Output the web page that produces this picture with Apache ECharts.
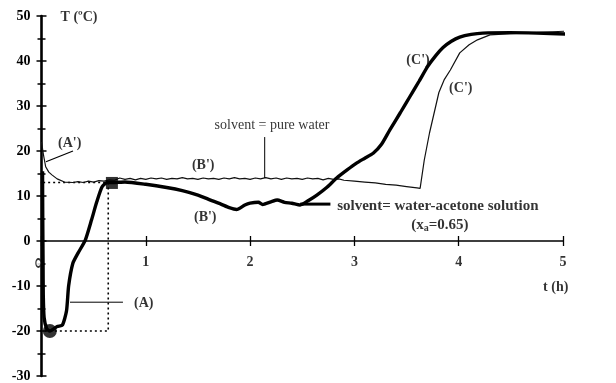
<!DOCTYPE html>
<html>
<head>
<meta charset="utf-8">
<script src="https://cdn.jsdelivr.net/npm/echarts@6/dist/echarts.min.js"></script>
<style>
  html, body { margin: 0; padding: 0; background: #fff; }
  #chart { width: 616px; height: 383px; }
</style>
</head>
<body>
<div id="chart"></div>
<script>
// Temperature history T (ºC) vs time t (h) for two solvents

// solvent = pure water (thin curve)
const waterTime = [0.00, 0.02, 0.04, 0.07, 0.10, 0.15, 0.22,
  0.30, 0.35, 0.40, 0.45, 0.50, 0.55, 0.60, 0.65, 0.70, 0.75, 0.80, 0.85, 0.90, 0.95,
  1.00, 1.05, 1.10, 1.15, 1.20, 1.25, 1.30, 1.35, 1.40, 1.45, 1.50, 1.55, 1.60, 1.65,
  1.70, 1.75, 1.80, 1.85, 1.90, 1.95, 2.00, 2.05, 2.10, 2.15, 2.20, 2.25, 2.30, 2.35,
  2.40, 2.45, 2.50, 2.55, 2.60, 2.65, 2.70, 2.75, 2.80, 2.85, 2.90,
  3.00, 3.10, 3.20, 3.30, 3.40, 3.50, 3.60, 3.63, 3.67, 3.72, 3.77, 3.81, 3.86, 3.92,
  4.01, 4.10, 4.18, 4.30, 4.50, 4.70, 4.90, 5.10, 5.45];
const waterTemp = [22.0, 19.0, 16.5, 15.3, 14.7, 13.8, 13.1,
  13.0, 13.2, 13.0, 13.3, 13.1, 13.4, 13.3, 13.6, 13.5, 14.0, 13.7, 13.9, 13.6, 13.9,
  13.7, 14.0, 13.8, 14.0, 13.7, 13.9, 13.8, 14.1, 13.8, 13.9, 13.7, 14.0, 13.8, 13.9,
  13.7, 14.0, 13.8, 14.1, 13.8, 13.9, 13.7, 14.0, 13.8, 14.1, 13.8, 14.0, 13.7, 14.0,
  13.8, 13.9, 13.7, 14.0, 13.8, 13.9, 13.6, 13.9, 13.7, 13.8, 13.5,
  13.3, 13.1, 12.9, 12.6, 12.4, 12.1, 11.8, 11.7, 18.0, 24.0, 29.0, 33.0, 35.8, 38.0,
  41.8, 43.6, 44.7, 45.8, 46.1, 46.3, 46.5, 46.7, 47.0];

// solvent = water-acetone solution, xa = 0.65 (thick curve)
const acetoneTime = [0.010, 0.012, 0.015, 0.017, 0.025, 0.05, 0.08, 0.15, 0.20, 0.24,
  0.26, 0.30, 0.35, 0.42, 0.48, 0.53, 0.58, 0.63, 0.68,
  0.80, 1.00, 1.20, 1.35, 1.50, 1.62, 1.72, 1.80, 1.87, 1.95, 2.00, 2.08, 2.12, 2.20,
  2.26, 2.33, 2.40, 2.48, 2.56, 2.64, 2.74, 2.83, 2.93, 3.02, 3.10, 3.18, 3.26, 3.34,
  3.44, 3.53, 3.62, 3.70, 3.78, 3.85, 3.93, 4.01, 4.12, 4.23, 4.49, 4.75, 5.02];
const acetoneTemp = [15.5, 5.0, -5.0, -12.0, -17.0, -19.5, -20.0, -19.0, -18.7, -15.5,
  -10.0, -5.0, -2.7, 0.2, 4.7, 8.7, 12.0, 13.0, 13.0,
  13.1, 12.6, 11.9, 11.2, 10.2, 9.1, 8.2, 7.4, 7.0, 8.0, 8.4, 8.6, 8.1, 8.7,
  9.1, 8.6, 8.4, 8.0, 9.0, 10.2, 12.0, 14.0, 15.8, 17.3, 18.4, 19.5, 21.5, 24.7,
  28.5, 32.0, 35.5, 38.7, 41.2, 43.0, 44.4, 45.3, 45.9, 46.2, 46.3, 46.2, 46.0];

// Marked points on the acetone curve: minimum (A) and end of cooling
const minPoint = [0.08, -20.0];
const plateauStart = [0.675, 12.9];
const startPoint = [-0.03, -4.9];

// Dotted guide box from the minimum to the end of cooling
const boxTime = [-0.08, 0.64, 0.64, -0.08, -0.08];
const boxTemp = [13.0, 13.0, -20.0, -20.0, 13.0];

// Tick label values
const yTicks = [-30, -20, -10, 0, 10, 20, 30, 40, 50];
const xTicks = [0, 1, 2, 3, 4, 5];

// Annotations: text and anchor in data units (t, T)
const noteText = ["T (ºC)", "(A')", "(A)", "(B')", "(B')", "solvent = pure water",
  "solvent= water-acetone solution", "{p|(x}{s|a}{p|=0.65)}", "(C')", "(C')", "t (h)"];
const noteTime = [0.36, 0.27, 0.98, 1.55, 1.57, 2.21, 3.80, 3.82, 3.61, 4.02, 4.93];
const noteTemp = [49.6, 21.8, -13.8, 16.9, 5.2, 25.8, 7.8, 3.6, 40.2, 34.0, -10.2];

// Leader lines from labels to curves
const leaders = [
  { t: [0.302, 0.043], T: [20.0, 17.6], w: 1.2 },
  { t: [0.273, 0.781], T: [-13.6, -13.6], w: 1.0 },
  { t: [2.14, 2.14], T: [23.1, 14.0], w: 1.0 },
  { t: [2.48, 2.77], T: [8.2, 8.2], w: 3.0 }
];

const zip = (a, b) => a.map((v, i) => [v, b[i]]);
const FONT = 'Liberation Serif';

const chart = echarts.init(document.getElementById('chart'), null, { renderer: 'canvas' });

const tickLabel = { fontFamily: FONT, fontWeight: 'bold', fontSize: 14, color: '#000' };

const series = [
  {
    type: 'line', name: 'pure water', data: zip(waterTime, waterTemp),
    showSymbol: false, clip: false, lineStyle: { color: '#111', width: 1.2 }, z: 3
  },
  {
    type: 'line', name: 'water-acetone', data: zip(acetoneTime, acetoneTemp),
    showSymbol: false, clip: false, smooth: 0.2, lineStyle: { color: '#000', width: 3.4 }, z: 4
  },
  {
    type: 'line', data: zip(boxTime, boxTemp), showSymbol: false, clip: false,
    lineStyle: { color: '#000', width: 1.6, type: [2, 3] }, z: 2
  },
  {
    type: 'scatter', data: [minPoint], symbol: 'circle', symbolSize: 14, clip: false,
    itemStyle: { color: '#000' }, z: 5
  },
  {
    type: 'scatter', data: [plateauStart], symbol: 'rect', symbolSize: 12, clip: false,
    itemStyle: { color: '#000' }, z: 5
  },
  {
    type: 'scatter', data: [startPoint], symbol: 'circle', symbolSize: [5, 8], clip: false,
    itemStyle: { color: '#fff', borderColor: '#000', borderWidth: 1.5 }, z: 5
  },
  {
    type: 'scatter', symbolSize: 0, clip: false, silent: true, z: 6,
    data: noteText.map((txt, i) => ({ value: [noteTime[i], noteTemp[i]], name: txt })),
    label: {
      show: true, position: 'inside', formatter: p => p.name,
      fontFamily: FONT, fontWeight: 'bold', fontSize: 14, color: '#000',
      rich: {
        p: { fontFamily: FONT, fontWeight: 'bold', fontSize: 15, color: '#000' },
        s: { fontFamily: FONT, fontWeight: 'bold', fontSize: 10, color: '#000', padding: [7, 0, 0, 0] }
      }
    }
  },
  {
    // time tick labels, hung below the t axis (which sits on T = 0)
    type: 'scatter', symbolSize: 0, clip: false, silent: true, z: 6,
    data: xTicks.filter(v => v !== 0).map(v => ({ value: [v, 0], name: String(v) })),
    label: {
      show: true, position: 'inside', offset: [0, 21], formatter: p => p.name,
      fontFamily: FONT, fontWeight: 'bold', fontSize: 14, color: '#000'
    }
  }
];

// the two solvent captions: plain caption for water, heavier one for the mixture
series[6].data[5].label = { fontSize: 14, fontWeight: 'normal' };
series[6].data[6].label = { fontSize: 15 };

leaders.forEach(l => {
  series.push({
    type: 'line', data: zip(l.t, l.T), showSymbol: false, clip: false, silent: true,
    lineStyle: { color: '#000', width: l.w }, z: 3
  });
});

chart.setOption({
  animation: false,
  backgroundColor: '#fff',
  grid: { left: 41.5, right: 53, top: 16, bottom: 7, containLabel: false, outerBoundsMode: 'none' },
  xAxis: [
    {
      type: 'value', min: xTicks[0], max: xTicks[xTicks.length - 1], interval: 1,
      axisLine: { show: true, onZero: true, onZeroAxisIndex: 0, lineStyle: { color: '#000', width: 1.5 } },
      axisTick: { show: true, length: 5, lineStyle: { color: '#000', width: 1.3 } },
      axisLabel: { show: false },
      splitLine: { show: false }
    },
    {
      type: 'value', min: xTicks[0], max: xTicks[xTicks.length - 1], interval: 1, position: 'bottom',
      axisLine: { show: false, onZero: true, onZeroAxisIndex: 0 },
      axisTick: { show: true, inside: true, length: 5, lineStyle: { color: '#000', width: 1.3 } },
      axisLabel: { show: false }, splitLine: { show: false }
    }
  ],
  yAxis: [
    {
      type: 'value', min: yTicks[0], max: yTicks[yTicks.length - 1], interval: 10,
      axisLine: { show: true, onZero: false, lineStyle: { color: '#000', width: 2.6 } },
      axisTick: { show: true, length: 5, lineStyle: { color: '#000', width: 1.5 } },
      minorTick: { show: true, splitNumber: 2, length: 4, lineStyle: { color: '#000', width: 1.5 } },
      axisLabel: Object.assign({ margin: 11 }, tickLabel),
      splitLine: { show: false }
    },
    {
      type: 'value', min: yTicks[0], max: yTicks[yTicks.length - 1], interval: 10, position: 'left',
      axisLine: { show: false, onZero: false },
      axisTick: { show: true, inside: true, length: 5, lineStyle: { color: '#000', width: 1.5 } },
      minorTick: { show: true, splitNumber: 2, length: 4, lineStyle: { color: '#000', width: 1.5 } },
      axisLabel: { show: false }, splitLine: { show: false }
    }
  ],
  series: series
});
</script>
</body>
</html>
